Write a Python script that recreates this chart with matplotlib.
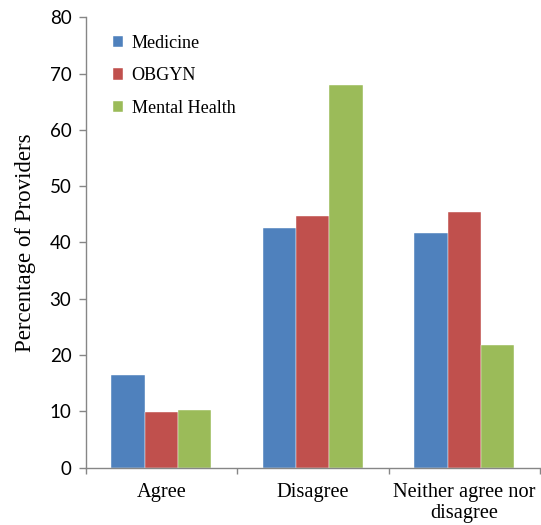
import matplotlib
matplotlib.use("Agg")
import matplotlib.pyplot as plt
import numpy as np

categories = ["Agree", "Disagree", "Neither agree nor\ndisagree"]
series_names = ["Medicine", "OBGYN", "Mental Health"]
medicine = [16.4, 42.5, 41.6]
obgyn = [9.9, 44.7, 45.4]
mental_health = [10.3, 68.0, 21.8]
colors = ["#4F81BD", "#C0504D", "#9BBB59"]
y_ticks = [0, 10, 20, 30, 40, 50, 60, 70, 80]

fig = plt.figure(figsize=(5.41, 5.25), dpi=100)
ax = fig.add_axes([0.1584, 0.1091, 0.8397, 0.858])

x = np.arange(len(categories))
width = 0.22
for i, (vals, name, c) in enumerate(zip([medicine, obgyn, mental_health], series_names, colors)):
    ax.bar(x + (i - 1) * width, vals, width, color=c, label=name,
           edgecolor="white", linewidth=0.3)

axis_color = "#868686"
ax.set_xlim(-0.5, len(categories) - 0.5)
ax.set_ylim(0, 80)
ax.set_yticks(y_ticks)
ax.set_yticklabels([str(t) for t in y_ticks], fontfamily="Lato", fontsize=13.5)

ax.set_xticks(np.arange(-0.5, len(categories), 1.0))
ax.set_xticklabels([])
ax.set_xticks(x, minor=True)
ax.set_xticklabels(categories, minor=True, fontfamily="Liberation Serif",
                   fontsize=14.7, linespacing=1.15)
ax.tick_params(axis="x", which="minor", length=0, pad=11)
ax.tick_params(axis="x", which="major", direction="out", length=4, color=axis_color, width=1)
ax.tick_params(axis="y", direction="out", length=5.3, color=axis_color, width=1, pad=5)

for side in ["top", "right"]:
    ax.spines[side].set_visible(False)
for side in ["left", "bottom"]:
    ax.spines[side].set_color(axis_color)
    ax.spines[side].set_linewidth(1)

ax.set_ylabel("Percentage of Providers", fontfamily="Liberation Serif", fontsize=16.5, labelpad=10)

leg = ax.legend(loc="upper left", bbox_to_anchor=(0.035, 0.985), frameon=False,
                prop={"family": "Liberation Serif", "size": 13.1},
                handlelength=0.6, handleheight=0.6, handletextpad=0.45,
                labelspacing=0.85, borderaxespad=0.2)

fig.savefig("out.png", dpi=100)
